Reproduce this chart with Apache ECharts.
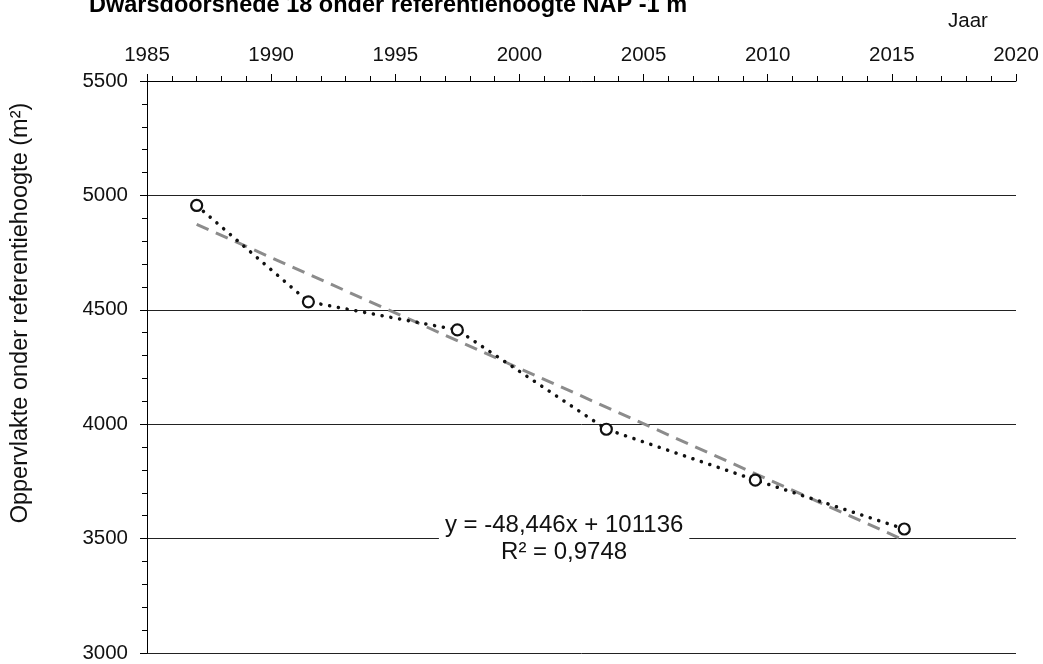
<!DOCTYPE html>
<html>
<head>
<meta charset="utf-8">
<script src="https://cdn.jsdelivr.net/npm/echarts@6/dist/echarts.min.js"></script>
<style>
  html, body { margin: 0; padding: 0; background: #fff; }
  #chart { width: 1043px; height: 664px; }
</style>
</head>
<body>
<div id="chart"></div>
<script>
// Measured cross-section area below the reference level, per survey year
const years = [1987, 1991.5, 1997.5, 2003.5, 2009.5, 2015.5];
const area = [4956, 4535, 4412, 3978, 3756, 3542];

// Linear trend as stated in the equation label
const trendSlope = -48.446;
const trendIntercept = 101136;
const equationLines = ['y = -48,446x + 101136', 'R² = 0,9748'];
const equationAnchor = [2001.8, 3500];

// Axis ranges and texts
const xRange = [1985, 2020];
const xStep = 5;
const yRange = [3000, 5500];
const yStep = 500;
const titleText = 'Dwarsdoorsnede 18 onder referentiehoogte NAP -1 m';
const xName = 'Jaar';
const yName = 'Oppervlakte onder referentiehoogte (m²)';

const FONT = '"Liberation Sans", Arial, sans-serif';
const TEXT = '#111';

const points = years.map((x, i) => [x, area[i]]);
const trendEnds = [years[0], years[years.length - 1]];
const trend = trendEnds.map(x => [x, trendSlope * x + trendIntercept]);

const chart = echarts.init(document.getElementById('chart'), null, { renderer: 'canvas' });

const axisBase = {
  type: 'value',
  axisLine: { show: true, onZero: false, lineStyle: { color: '#000', width: 1 } },
  axisTick: { show: true, inside: false, length: 7, lineStyle: { color: '#000', width: 1 } },
  minorTick: { show: true, splitNumber: 5, length: 5, lineStyle: { color: '#000', width: 1 } },
  axisLabel: { fontSize: 20.5, color: TEXT, fontFamily: FONT, formatter: v => String(v) }
};

chart.setOption({
  animation: false,
  backgroundColor: '#fff',
  grid: { left: 147, right: 27, top: 81, bottom: 11 },
  xAxis: Object.assign({}, axisBase, {
    position: 'top',
    min: xRange[0], max: xRange[1], interval: xStep,
    splitLine: { show: false },
    axisLabel: Object.assign({}, axisBase.axisLabel, { margin: 15 })
  }),
  yAxis: Object.assign({}, axisBase, {
    min: yRange[0], max: yRange[1], interval: yStep,
    splitLine: { show: true, lineStyle: { color: '#222', width: 1 } },
    axisLabel: Object.assign({}, axisBase.axisLabel, { margin: 19 })
  }),
  series: [
    {
      name: 'trend',
      type: 'line',
      data: trend,
      symbol: 'none',
      silent: true,
      z: 2,
      lineStyle: { color: '#8c8c8c', width: 3, type: [13, 8] }
    },
    {
      name: 'oppervlakte',
      type: 'line',
      data: points,
      symbol: 'circle',
      symbolSize: 11,
      z: 3,
      itemStyle: { color: '#fff', borderColor: TEXT, borderWidth: 2.2 },
      lineStyle: { color: TEXT, width: 3.5, type: [0.1, 8.8], cap: 'round' }
    }
  ]
});

const anchor = chart.convertToPixel({ gridIndex: 0 }, equationAnchor);

chart.setOption({
  graphic: [
    {
      type: 'text',
      left: 89, top: -6,
      style: { text: titleText, font: 'bold 23.5px ' + FONT, fill: '#000' }
    },
    {
      type: 'text',
      left: 948, top: 11,
      style: { text: xName, font: '20.5px ' + FONT, fill: TEXT }
    },
    {
      // vertical axis title
      type: 'text',
      x: 21, y: 313,
      rotation: Math.PI / 2,
      style: {
        text: yName,
        font: '23.5px ' + FONT,
        fill: TEXT,
        align: 'center',
        verticalAlign: 'middle'
      }
    },
    {
      type: 'text',
      x: anchor[0], y: anchor[1],
      z: 10,
      style: {
        text: equationLines.join('\n'),
        font: '24px ' + FONT,
        fill: TEXT,
        lineHeight: 27,
        align: 'center',
        verticalAlign: 'middle',
        backgroundColor: '#fff',
        padding: [0, 6]
      }
    }
  ]
});
</script>
</body>
</html>
